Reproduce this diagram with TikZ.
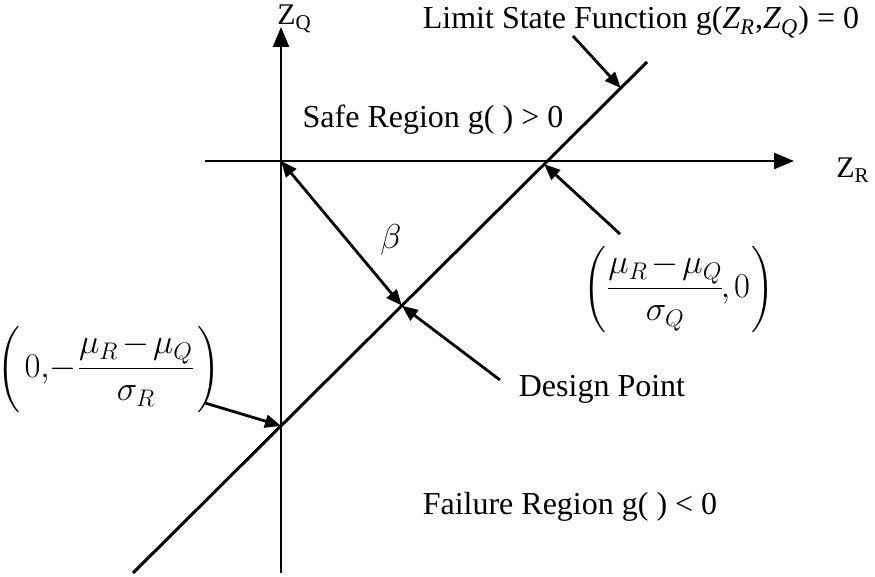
\documentclass[tikz,border=0pt]{standalone}
\usepackage{amsmath}
\usepackage{fontspec}
\setmainfont{Liberation Serif}
\usetikzlibrary{arrows.meta,calc}
\newcommand{\parsize}{\fontsize{15}{18}\selectfont}
\begin{document}
\begin{tikzpicture}[x=0.5pt,y=-0.5pt,
  axisline/.style={line width=1.3pt,-{Triangle[length=10pt,width=8pt]}},
  pointer/.style={line width=1.4pt,-{Triangle[length=8pt,width=6.5pt]}},
  bipointer/.style={line width=1.4pt,{Triangle[length=8pt,width=6.5pt]}-{Triangle[length=8pt,width=6.5pt]}},
  lsline/.style={line width=1.5pt},
  lbl/.style={font=\fontsize{16}{19}\selectfont, inner sep=0pt},
  axlbl/.style={font=\fontsize{15}{18}\selectfont, inner sep=0pt},
  mathlbl/.style={font=\fontsize{16.5}{20}\selectfont, inner sep=0pt}]
\useasboundingbox (0,0) rectangle (875,577);
% axes
\coordinate (QB) at (281,573);
\coordinate (QT) at (281,27);
\coordinate (RL) at (205,161);
\coordinate (RR) at (794,161);
\coordinate (O) at (281,161);
\draw[axisline] (QB) -- (QT);
\draw[axisline] (RL) -- (RR);
% limit state line
\coordinate (A) at (133,573);
\coordinate (B) at (647,62);
\draw[lsline] (A) -- (B);
\coordinate (P1) at ($(A)!0.288!(B)$);
\coordinate (P2) at ($(A)!0.8!(B)$);
\coordinate (D) at ($(A)!0.523!(B)$);
\coordinate (L1) at ($(A)!0.949!(B)$);
% labels
\node[axlbl, anchor=base west] (zq) at (277,25) {Z\textsubscript{Q}};
\node[axlbl, anchor=base west] (zr) at (836,178) {Z\textsubscript{R}};
\node[lbl, anchor=base] (lsf) at (641,29) {Limit State Function g(\textit{Z}\textsubscript{\textit{R}},\textit{Z}\textsubscript{\textit{Q}}) = 0};
\node[lbl, anchor=base] (safe) at (433,128) {Safe Region g( ) > 0};
\node[lbl, anchor=base] (fail) at (570,515) {Failure Region g( ) < 0};
\node[lbl, anchor=base] (dp) at (602,397) {Design Point};
\node[lbl] (beta) at (391,240) {$\beta$};
\node[mathlbl] (rl) at (679,290) {{\parsize$\Biggl($}$\medmuskip=2mu\displaystyle\frac{\mu_R-\mu_Q}{\sigma_Q}\mkern-2mu,\mkern-1mu0\mkern1mu${\parsize$\Biggr)$}};
\node[mathlbl] (ql) at (109,370) {{\parsize$\Biggl($}$\medmuskip=2mu\displaystyle\mkern2mu 0,\mkern-3mu-\frac{\mu_R-\mu_Q}{\sigma_R}\mkern1mu${\parsize$\Biggr)$}};
% pointer tails
\coordinate (lsfT) at (573,36);
\coordinate (rlT) at (620,234);
\coordinate (qlT) at (205,403);
\coordinate (dpT) at (500,380);
\draw[pointer] (lsfT) -- (L1);
\draw[pointer] (rlT) -- (P2);
\draw[pointer] (qlT) -- (P1);
\draw[pointer] (dpT) -- (D);
\draw[bipointer] (O) -- (D);
\end{tikzpicture}
\end{document}
